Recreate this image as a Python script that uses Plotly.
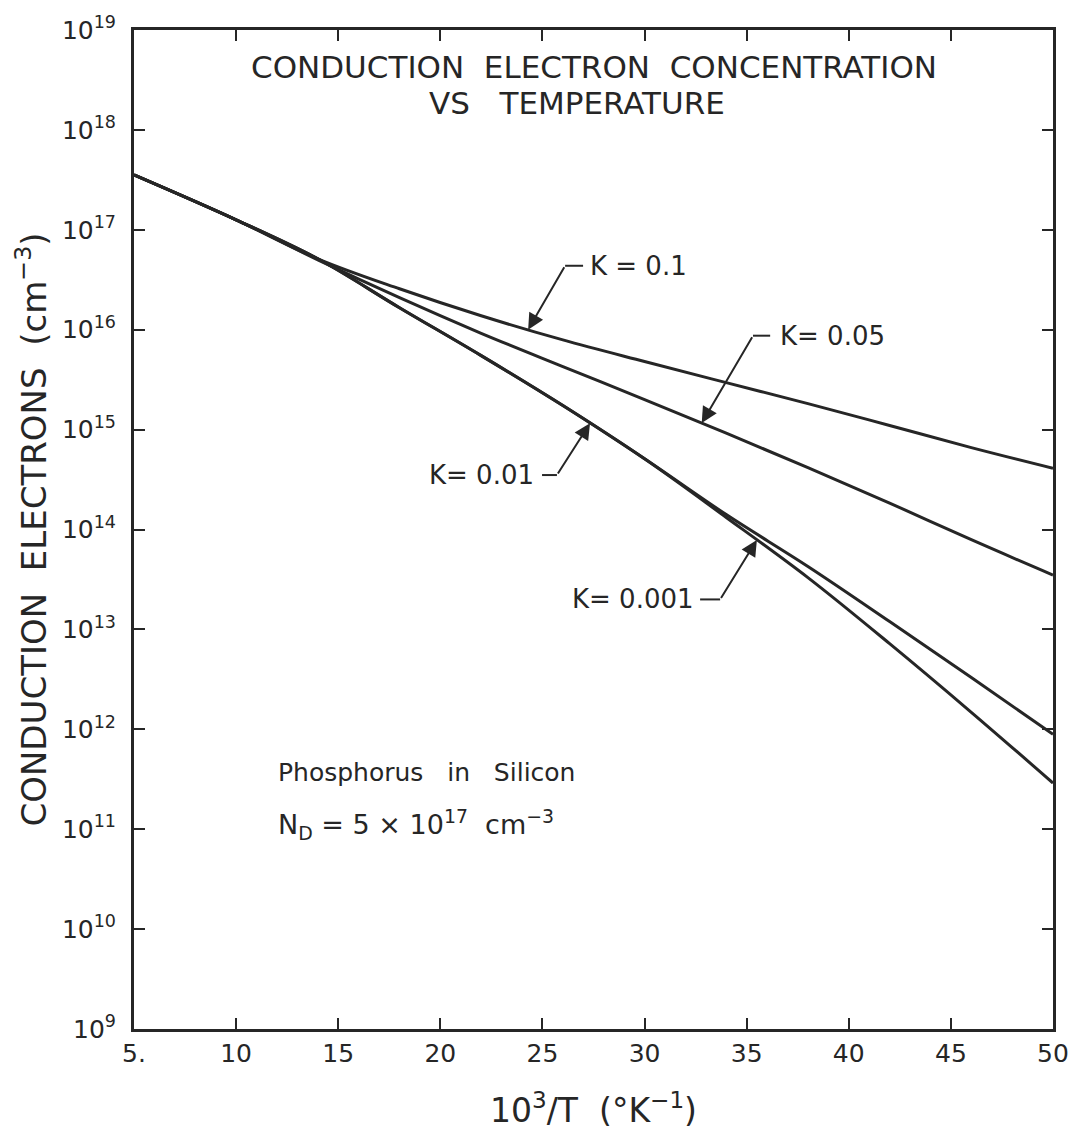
import numpy as np
import plotly.graph_objects as go

# ---------------- data ----------------
inv_T = [5, 10, 14, 18, 22, 26, 30, 34, 38, 42, 46, 50]          # 10^3/T  (K^-1)

n_K0p1   = [3.55e17, 1.26e17, 5.13e16, 2.57e16, 1.38e16, 7.9e15, 4.8e15, 2.95e15, 1.82e15, 1.10e15, 6.6e14, 4.1e14]
n_K0p05  = [3.55e17, 1.26e17, 5.0e16, 2.09e16, 9.2e15, 4.27e15, 2.0e15, 9.2e14, 4.17e14, 1.84e14, 7.9e13, 3.5e13]
n_K0p01  = [3.55e17, 1.26e17, 5.13e16, 1.66e16, 5.5e15, 1.74e15, 5.1e14, 1.41e14, 4.27e13, 1.20e13, 3.3e12, 8.9e11]
n_K0p001 = [3.55e17, 1.26e17, 5.13e16, 1.66e16, 5.5e15, 1.74e15, 5.1e14, 1.32e14, 3.3e13, 7.2e12, 1.48e12, 2.9e11]

series_names = ["K = 0.1", "K= 0.05", "K= 0.01", "K= 0.001"]
series_vals = [n_K0p1, n_K0p05, n_K0p01, n_K0p001]

x_tickvals = [5, 10, 15, 20, 25, 30, 35, 40, 45, 50]
x_ticktext = ["5.", "10", "15", "20", "25", "30", "35", "40", "45", "50"]
y_exponents = list(range(9, 20))
y_tickvals = [10.0 ** e for e in y_exponents]
y_ticktext = ["10<sup>%d</sup>" % e for e in y_exponents]

# label layout: (x of arrow head on curve, bend x, bend log10 y, dash end x, text x, text anchor)
label_layout = [
    (24.3, 26.11, 16.64, 26.99, 27.23, "left"),
    (32.8, 35.31, 15.94, 36.15, 36.54, "left"),
    (27.33, 25.71, 14.545, 24.98, 24.70, "right"),
    (35.5, 33.70, 13.30, 32.72, 32.50, "right"),
]

INK = "#262626"
FONT = "DejaVu Sans"

fig = go.Figure()

for name, vals in zip(series_names, series_vals):
    fig.add_trace(go.Scatter(
        x=inv_T, y=vals, mode="lines", name=name,
        line=dict(color=INK, width=3, shape="spline", smoothing=1.0),
        showlegend=False, hoverinfo="skip"))

annotations = []
for name, vals, (xh, xb, lb, xd, xt, anc) in zip(series_names, series_vals, label_layout):
    yh = float(np.interp(xh, inv_T, np.log10(vals)))
    # diagonal leader with arrowhead
    annotations.append(dict(
        x=xh, y=yh, xref="x", yref="y",
        ax=xb, ay=lb, axref="x", ayref="y",
        text="", showarrow=True, arrowhead=2, arrowsize=1.6,
        arrowwidth=2, arrowcolor=INK, standoff=0, startstandoff=0))
    # short horizontal part of the leader
    fig.add_trace(go.Scatter(
        x=[xb, xd], y=[10 ** lb, 10 ** lb], mode="lines",
        line=dict(color=INK, width=2), showlegend=False, hoverinfo="skip"))
    annotations.append(dict(
        x=xt, y=lb, xref="x", yref="y", text=name, showarrow=False,
        xanchor=anc, yanchor="middle",
        font=dict(family=FONT, size=26, color=INK)))

# title lines (paper coords)
annotations.append(dict(
    x=0.501, y=0.963, xref="paper", yref="paper",
    text="CONDUCTION  ELECTRON  CONCENTRATION", showarrow=False,
    xanchor="center", yanchor="middle",
    font=dict(family=FONT, size=31, color=INK)))
annotations.append(dict(
    x=0.482, y=0.927, xref="paper", yref="paper",
    text="VS   TEMPERATURE", showarrow=False,
    xanchor="center", yanchor="middle",
    font=dict(family=FONT, size=31, color=INK)))

# sample description
annotations.append(dict(
    x=0.155, y=0.257, xref="paper", yref="paper",
    text="Phosphorus   in   Silicon", showarrow=False,
    xanchor="left", yanchor="middle",
    font=dict(family=FONT, size=25, color=INK)))
annotations.append(dict(
    x=0.155, y=0.205, xref="paper", yref="paper",
    text="N<sub>D</sub> = 5 × 10<sup>17</sup>  cm<sup>−3</sup>", showarrow=False,
    xanchor="left", yanchor="middle",
    font=dict(family=FONT, size=27, color=INK)))

fig.update_layout(
    width=1081, height=1135,
    margin=dict(l=134, r=28, t=22, b=105),
    paper_bgcolor="white", plot_bgcolor="white",
    font=dict(family=FONT, color=INK),
    annotations=annotations,
    xaxis=dict(
        range=[5, 50], tickvals=x_tickvals, ticktext=x_ticktext,
        ticks="inside", ticklen=11, tickwidth=2, tickcolor=INK,
        showline=True, linewidth=3, linecolor=INK, mirror="ticks",
        showgrid=False, zeroline=False,
        tickfont=dict(family=FONT, size=25, color=INK),
        title=dict(text="10<sup>3</sup>/T  (°K<sup>−1</sup>)",
                   font=dict(family=FONT, size=33, color=INK), standoff=32)),
    yaxis=dict(
        type="log", range=[9, 19], tickvals=y_tickvals, ticktext=y_ticktext,
        ticks="inside", ticklen=11, tickwidth=2, tickcolor=INK,
        showline=True, linewidth=3, linecolor=INK, mirror="ticks",
        showgrid=False, zeroline=False, ticklabelstandoff=10,
        tickfont=dict(family=FONT, size=25, color=INK),
        title=dict(text="CONDUCTION  ELECTRONS  (cm<sup>−3</sup>)",
                   font=dict(family=FONT, size=34, color=INK), standoff=6)),
)

fig.write_html("out.html")
